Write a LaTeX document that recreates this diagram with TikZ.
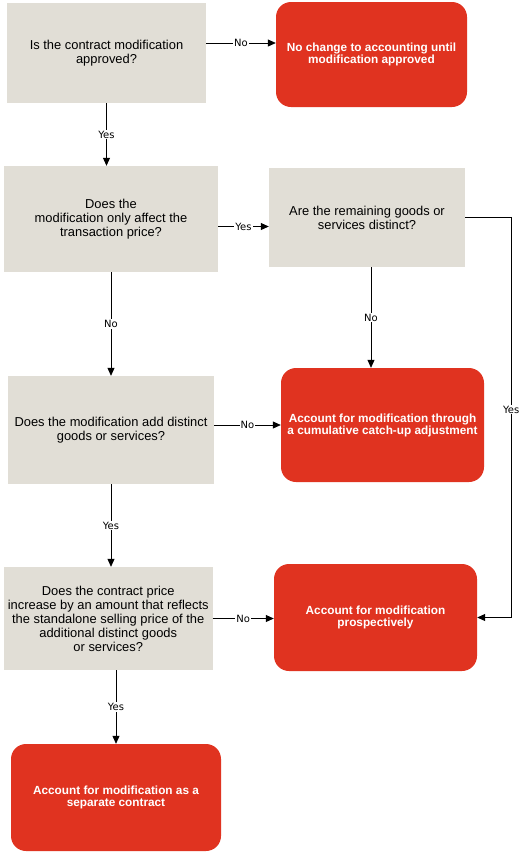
\documentclass[tikz,border=0pt]{standalone}
\usepackage{fontspec}
\setmainfont{Liberation Sans}
\newfontfamily\answerfont{DejaVu Sans}
\usepackage{xcolor}
\usetikzlibrary{arrows.meta}
\definecolor{modgray}{RGB}{225, 222, 214}
\definecolor{modred}{RGB}{224, 51, 32}

\begin{document}
\begin{tikzpicture}[x=1pt, y=-1pt,
  question/.style={fill=modgray, inner sep=0pt, align=center, font=\fontsize{12.9}{14}\selectfont},
  outcome/.style={fill=modred, rounded corners=15pt, inner sep=0pt, align=center, text=white, font=\fontsize{11.8}{12}\selectfont\bfseries},
  flow/.style={-{Triangle[length=8pt,width=7pt]}, line width=0.8pt},
  answer/.style={fill=white, inner sep=1pt, font=\answerfont\fontsize{10}{11}\selectfont}]
\useasboundingbox (0,0) rectangle (532,855);

% questions
\node[question, minimum width=199pt, minimum height=100pt] (approved) at (106.5,53) {Is the contract modification\\approved?};
\node[question, minimum width=214pt, minimum height=106pt] (onlyprice) at (111,219) {Does the\\modification only affect the\\transaction price?};
\node[question, minimum width=196pt, minimum height=99pt] (remaining) at (367,217.5) {Are the remaining goods or\\services distinct?};
\node[question, minimum width=206pt, minimum height=108pt] (adddistinct) at (111,430) {Does the modification add distinct\\goods or services?};
\node[question, minimum width=208.5pt, minimum height=103pt] (standalone) at (108.25,618.5) {Does the contract price\\increase by an amount that reflects\\the standalone selling price of the\\additional distinct goods\\or services?};

% outcomes
\node[outcome, minimum width=191pt, minimum height=105pt] (nochange) at (371.5,54.5) {No change to accounting until\\modification approved};
\node[outcome, minimum width=203pt, minimum height=114pt] (catchup) at (382.5,425) {Account for modification through\\a cumulative catch-up adjustment};
\node[outcome, minimum width=203pt, minimum height=107pt] (prospective) at (375.5,617.5) {Account for modification\\prospectively};
\node[outcome, minimum width=210pt, minimum height=107pt] (separate) at (116,797.5) {Account for modification as a\\separate contract};

% connectors
\draw[flow] ([yshift=10pt]approved.east) coordinate (a1) -- node[answer] {No} (a1 -| nochange.west);
\draw[flow] (approved.south) -- node[answer] {Yes} (approved.south |- onlyprice.north);
\draw[flow] ([yshift=-7.5pt]onlyprice.east) coordinate (b1) -- node[answer] {Yes} (b1 -| remaining.west);
\draw[flow] (onlyprice.south) -- node[answer] {No} (adddistinct.north);
\draw[flow] ([xshift=4pt]remaining.south) coordinate (c1) -- node[answer] {No} (c1 |- catchup.north);
\draw[flow] (remaining.east) -- ++(46,0) |- node[answer, pos=0.24] {Yes} (prospective.east);
\draw[flow] ([yshift=5pt]adddistinct.east) coordinate (d1) -- node[answer] {No} (d1 -| catchup.west);
\draw[flow] (adddistinct.south) -- node[answer] {Yes} (adddistinct.south |- standalone.north);
\draw[flow] (standalone.east) -- node[answer] {No} (standalone.east -| prospective.west);
\draw[flow] (separate.north |- standalone.south) -- node[answer] {Yes} (separate.north);
\end{tikzpicture}
\end{document}
